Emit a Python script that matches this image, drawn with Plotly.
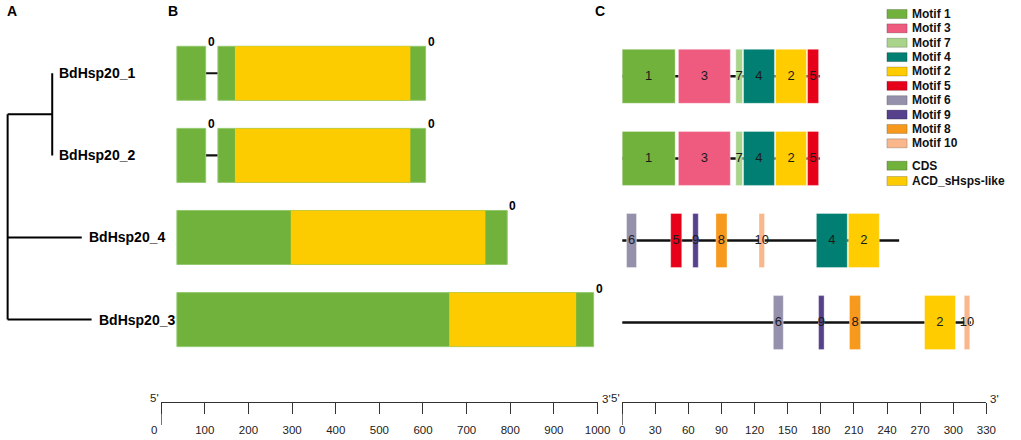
import plotly.graph_objects as go

# genes, top to bottom (rows 0..3)
genes = ["BdHsp20_1", "BdHsp20_2", "BdHsp20_4", "BdHsp20_3"]

# panel A: tree, depth of each leaf and of the BdHsp20_1/BdHsp20_2 clade
leaf_depth = [0.453, 0.453, 0.753, 0.853]
clade_members = [0, 1]
clade_depth = 0.453

# panel B: gene structure, positions on the 0-1000 ruler
exon_start = [[36, 130], [36, 130], [36], [36]]
exon_end = [[102, 606], [102, 606], [793], [991]]
intron_start = [[102], [102], [], []]
intron_end = [[130], [130], [], []]
acd_start = [169, 169, 297, 660]
acd_end = [571, 571, 743, 951]
phase_pos = [[102, 606], [102, 606], [793], [991]]
phase_text = [["0", "0"], ["0", "0"], ["0"], ["0"]]

# panel C: protein length and motifs
protein_len = [179, 179, 251, 316]
motif_id = [
    [1, 3, 7, 4, 2, 5],
    [1, 3, 7, 4, 2, 5],
    [6, 5, 9, 8, 10, 4, 2],
    [6, 9, 8, 2, 10],
]
motif_start = [
    [0, 51, 103, 110, 139, 168],
    [0, 51, 103, 110, 139, 168],
    [4, 44, 64, 85, 124, 176, 205],
    [137, 178, 206, 274, 310],
]
motif_end = [
    [48, 98, 109, 138, 167, 178],
    [48, 98, 109, 138, 167, 178],
    [13, 54, 69, 95, 129, 204, 233],
    [146, 183, 216, 302, 315],
]

# legend order and colours
motif_order = [1, 3, 7, 4, 2, 5, 6, 9, 8, 10]
motif_colors = ["#71B23D", "#EE5B7F", "#A8D48B", "#007F72", "#FFCC00",
                "#E60019", "#9591AD", "#56418C", "#F7991C", "#FAB78C"]
feature_names = ["CDS", "ACD_sHsps-like"]
feature_colors = ["#71B23D", "#FCCC00"]

ruler_nt_ticks = list(range(0, 1001, 100))
ruler_aa_ticks = list(range(0, 331, 30))

W, H = 1021, 440
FONT = "Liberation Sans, Arial, sans-serif"
BOX = 0.658  # box height in rows


def px(v):
    return v / W


def py(v):
    return 1 - v / H


fig = go.Figure()

# ---- panel A: tree
tx, ty = [], []
clade_y = sum(clade_members) / len(clade_members)
tx += [0, 0, None]
ty += [clade_y, len(genes) - 1, None]
tx += [0, clade_depth, None]
ty += [clade_y, clade_y, None]
tx += [clade_depth, clade_depth, None]
ty += [min(clade_members), max(clade_members), None]
for i, d in enumerate(leaf_depth):
    if i in clade_members:
        continue
    tx += [0, d, None]
    ty += [i, i, None]
fig.add_trace(go.Scatter(x=tx, y=ty, mode="lines", xaxis="x3", yaxis="y",
                         line=dict(color="black", width=2), hoverinfo="skip"))

# ---- panel B: gene structure
ix, ib, iy = [], [], []
for r in range(len(genes)):
    for s, e in zip(intron_start[r], intron_end[r]):
        ib.append(s)
        ix.append(e - s)
        iy.append(r)
fig.add_trace(go.Bar(orientation="h", y=iy, x=ix, base=ib, width=0.025,
                     marker=dict(color="#111111", line=dict(width=0)),
                     xaxis="x", yaxis="y"))
ex, eb, ey = [], [], []
for r in range(len(genes)):
    for s, e in zip(exon_start[r], exon_end[r]):
        eb.append(s)
        ex.append(e - s)
        ey.append(r)
fig.add_trace(go.Bar(orientation="h", y=ey, x=ex, base=eb, width=BOX,
                     marker=dict(color=feature_colors[0],
                                 line=dict(color="#93C86E", width=1)),
                     xaxis="x", yaxis="y"))
fig.add_trace(go.Bar(orientation="h", y=list(range(len(genes))),
                     x=[e - s for s, e in zip(acd_start, acd_end)], base=acd_start,
                     width=BOX,
                     marker=dict(color=feature_colors[1], line=dict(width=0)),
                     xaxis="x", yaxis="y"))

# ---- panel C: motifs
fig.add_trace(go.Bar(orientation="h", y=list(range(len(genes))), x=protein_len,
                     base=[0] * len(genes), width=0.03,
                     marker=dict(color="#111111", line=dict(width=0)),
                     xaxis="x2", yaxis="y2"))
lx, ly, lt = [], [], []
for m, col in zip(motif_order, motif_colors):
    mb, mx, my = [], [], []
    for r in range(len(genes)):
        for k, s, e in zip(motif_id[r], motif_start[r], motif_end[r]):
            if k == m:
                mb.append(s)
                mx.append(e - s)
                my.append(r)
                lx.append((s + e) / 2)
                ly.append(r)
                lt.append(str(k))
    fig.add_trace(go.Bar(orientation="h", y=my, x=mx, base=mb, width=BOX,
                         marker=dict(color=col, line=dict(color="rgba(255,255,255,0.35)", width=1)),
                         xaxis="x2", yaxis="y2"))
fig.add_trace(go.Scatter(x=lx, y=ly, text=lt, mode="text", xaxis="x2", yaxis="y2",
                         textfont=dict(family=FONT, size=13, color="#1a1a1a"),
                         hoverinfo="skip"))

annotations = []
shapes = []

# leaf labels
for i, g in enumerate(genes):
    annotations.append(dict(x=leaf_depth[i], y=i, xref="x3", yref="y", text="<b>%s</b>" % g,
                            showarrow=False, xanchor="left", yanchor="middle", xshift=5,
                            font=dict(family=FONT, size=14, color="black")))

# intron phase labels
for r in range(len(genes)):
    for p, t in zip(phase_pos[r], phase_text[r]):
        annotations.append(dict(x=p, y=r - BOX / 2, xref="x", yref="y", text="<b>%s</b>" % t,
                                showarrow=False, xanchor="left", yanchor="middle", yshift=4,
                                font=dict(family=FONT, size=12, color="black")))

# panel letters
for letter, lx0 in [("A", 9), ("B", 173), ("C", 606)]:
    annotations.append(dict(x=px(lx0), y=py(11), xref="paper", yref="paper",
                            text="<b>%s</b>" % letter, showarrow=False,
                            xanchor="center", yanchor="middle",
                            font=dict(family=FONT, size=14, color="black")))

# ruler end labels
for xr, lo, hi in [("x", ruler_nt_ticks[0], ruler_nt_ticks[-1]),
                   ("x2", ruler_aa_ticks[0], ruler_aa_ticks[-1])]:
    annotations.append(dict(x=lo, y=py(398), xref=xr, yref="paper", text="5'",
                            showarrow=False, xanchor="right", yanchor="middle",
                            font=dict(family=FONT, size=11.5, color="#222")))
    annotations.append(dict(x=hi, y=py(399), xref=xr, yref="paper", text="3'",
                            showarrow=False, xanchor="left", yanchor="middle", xshift=2,
                            font=dict(family=FONT, size=11.5, color="#222")))
    shapes.append(dict(type="line", xref=xr, yref="paper", x0=lo, x1=lo,
                       y0=py(402), y1=py(425), line=dict(color="#333", width=1.3)))

# the nt ruler's "0" sits left of its long start tick
nt_ticktext = [str(t) for t in ruler_nt_ticks]
annotations.append(dict(x=ruler_nt_ticks[0], y=py(430), xref="x", yref="paper",
                        text=nt_ticktext[0], showarrow=False, xanchor="center",
                        yanchor="middle", xshift=-7,
                        font=dict(family=FONT, size=11.5, color="#222")))
nt_ticktext[0] = ""

# legend
legend_names = ["Motif %d" % m for m in motif_order] + feature_names
legend_cols = motif_colors + feature_colors
legend_y = [14 + 14.37 * i for i in range(len(motif_order))] + [165.7, 181]
for name, col, yc in zip(legend_names, legend_cols, legend_y):
    shapes.append(dict(type="rect", xref="paper", yref="paper",
                       x0=px(898), x1=px(918.5), y0=py(yc + 4.5), y1=py(yc - 4.5),
                       fillcolor=col, line=dict(color="rgba(0,0,0,0.2)", width=1)))
    annotations.append(dict(x=px(921.5), y=py(yc), xref="paper", yref="paper",
                            text="<b>%s</b>" % name, showarrow=False,
                            xanchor="left", yanchor="middle",
                            font=dict(family=FONT, size=12, color="#111")))

row_range = [(402 - 73.3) / 82.1, (30 - 73.3) / 82.1]
ruler_axis = dict(showgrid=False, zeroline=False, showline=True, linecolor="#333",
                  linewidth=1.3, ticks="outside", ticklen=11, tickwidth=1.3,
                  tickcolor="#333", tickfont=dict(family=FONT, size=11.5, color="#222"),
                  ticklabelstandoff=6, fixedrange=True)

fig.update_layout(
    width=W, height=H,
    margin=dict(l=0, r=0, t=0, b=0),
    paper_bgcolor="white", plot_bgcolor="white",
    showlegend=False, barmode="overlay",
    xaxis=dict(domain=[px(160.7), px(604)], range=[0, 1000], tickvals=ruler_nt_ticks,
               ticktext=nt_ticktext, anchor="y", **ruler_axis),
    xaxis2=dict(domain=[px(629), px(999)], range=[0, 330], tickvals=ruler_aa_ticks,
                anchor="free", position=py(401.7), **ruler_axis),
    xaxis3=dict(domain=[0, px(153)], range=[-0.047, 1.483], visible=False, anchor="y"),
    yaxis=dict(domain=[py(402), py(30)], range=row_range, visible=False),
    yaxis2=dict(domain=[py(405), py(33)], range=row_range, visible=False, anchor="x2"),
    annotations=annotations,
    shapes=shapes,
)

# the page's default body margin would shift the whole figure by 8px
fig.write_html("out.html", config={"displayModeBar": False},
               post_script="document.body.style.margin='0';")
